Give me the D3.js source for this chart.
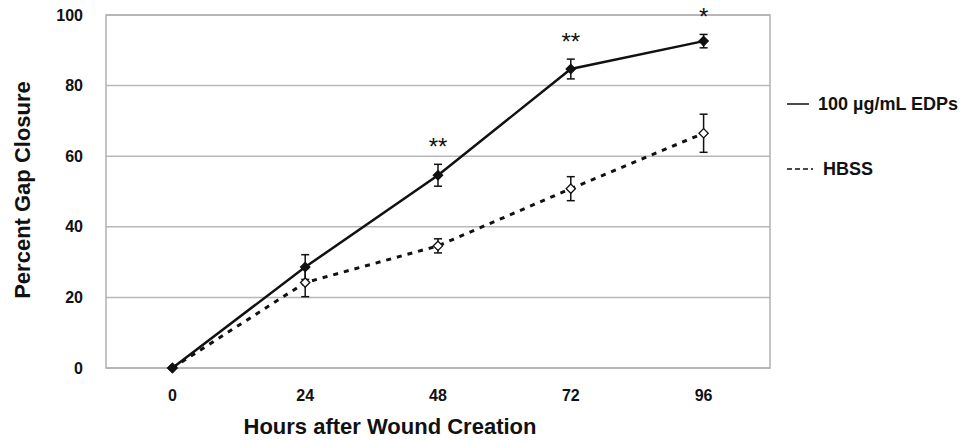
<!DOCTYPE html>
<html><head><meta charset="utf-8">
<script src="https://cdn.jsdelivr.net/npm/d3@7"></script>
<style>body{margin:0;background:#fff}svg{display:block}text{font-family:"Liberation Sans",Arial,sans-serif;font-weight:bold;fill:#111}</style>
</head><body><svg id="c" width="963" height="441"></svg>
<script>
const categories = ["0","24","48","72","96"];
const edpValues = [0, 28.6, 54.6, 84.7, 92.6];
const edpErrors = [0, 3.5, 3.1, 2.8, 1.9];
const hbssValues = [0, 24.2, 34.6, 50.8, 66.5];
const hbssErrors = [0, 4.0, 2.0, 3.4, 5.4];
const significance = ["", "", "**", "**", "*"];
const yTicks = [0, 20, 40, 60, 80, 100];
const seriesNames = ["100 µg/mL EDPs", "HBSS"];

const svg = d3.select("#c");
const L = 106, R = 770, T = 15, B = 368;
const x = d3.scaleBand().domain(categories).range([L, R]);
const cx = c => x(c) + x.bandwidth() / 2;
const y = d3.scaleLinear().domain([0, 100]).range([B, T]);

// gridlines
svg.append("g").selectAll("line").data(yTicks).join("line")
  .attr("x1", L).attr("x2", R).attr("y1", d => y(d)).attr("y2", d => y(d))
  .attr("stroke", "#b8b8b8").attr("stroke-width", 1.5);
// frame
svg.append("rect").attr("x", L).attr("y", T).attr("width", R - L).attr("height", B - T)
  .attr("fill", "none").attr("stroke", "#b0b0b0").attr("stroke-width", 1.5);

// y axis labels
const yAxis = d3.axisLeft(y).tickValues(yTicks).tickSize(0).tickPadding(23);
const gy = svg.append("g").attr("transform", `translate(${L},0)`).call(yAxis);
gy.select(".domain").remove();
gy.selectAll("text").style("font-size", "16px").style("font-family", "Liberation Sans, Arial").style("font-weight", "bold").attr("fill", "#111");

// x axis labels
const xAxis = d3.axisBottom(x).tickSize(0).tickPadding(22);
const gx = svg.append("g").attr("transform", `translate(0,${B})`).call(xAxis);
gx.select(".domain").remove();
gx.selectAll("text").style("font-size", "16px").style("font-family", "Liberation Sans, Arial").style("font-weight", "bold").attr("fill", "#111");

// titles
svg.append("text").attr("x", 390).attr("y", 434).attr("text-anchor", "middle")
  .style("font-size", "22px").text("Hours after Wound Creation");
svg.append("text").attr("transform", "translate(30,190) rotate(-90)").attr("text-anchor", "middle")
  .style("font-size", "22px").text("Percent Gap Closure");

function errorBars(vals, errs) {
  const g = svg.append("g").attr("stroke", "#111").attr("stroke-width", 1.5);
  vals.forEach((v, i) => {
    if (!errs[i]) return;
    const xc = cx(categories[i]);
    g.append("line").attr("x1", xc).attr("x2", xc).attr("y1", y(v - errs[i])).attr("y2", y(v + errs[i]));
    [v - errs[i], v + errs[i]].forEach(e => g.append("line").attr("x1", xc - 4).attr("x2", xc + 4).attr("y1", y(e)).attr("y2", y(e)));
  });
}
errorBars(hbssValues, hbssErrors);
errorBars(edpValues, edpErrors);

const line = d3.line().x((d, i) => cx(categories[i])).y(d => y(d));
svg.append("path").datum(hbssValues).attr("d", line).attr("fill", "none")
  .attr("stroke", "#111").attr("stroke-width", 3).attr("stroke-dasharray", "5,6");
svg.append("path").datum(edpValues).attr("d", line).attr("fill", "none")
  .attr("stroke", "#111").attr("stroke-width", 2.5);

const diamond = d3.symbol().type(d3.symbolDiamond2).size(55);
svg.append("g").selectAll("path").data(hbssValues).join("path")
  .attr("d", diamond).attr("transform", (d, i) => `translate(${cx(categories[i])},${y(d)})`)
  .attr("fill", "#fff").attr("stroke", "#111").attr("stroke-width", 1.3);
svg.append("g").selectAll("path").data(edpValues).join("path")
  .attr("d", diamond).attr("transform", (d, i) => `translate(${cx(categories[i])},${y(d)})`)
  .attr("fill", "#111").attr("stroke", "#111").attr("stroke-width", 1.3);

// significance stars
svg.append("g").selectAll("text").data(significance).join("text")
  .attr("x", (d, i) => cx(categories[i])).attr("y", (d, i) => y(edpValues[i] + edpErrors[i]) - 9)
  .attr("text-anchor", "middle").style("font-size", "24px").style("font-weight", "normal").text(d => d);

// legend
const lg = svg.append("g");
lg.append("line").attr("x1", 787).attr("x2", 809).attr("y1", 104).attr("y2", 104).attr("stroke", "#111").attr("stroke-width", 1.5);
lg.append("text").attr("x", 818).attr("y", 110).style("font-size", "18px").text(seriesNames[0]);
lg.append("line").attr("x1", 787).attr("x2", 813).attr("y1", 169).attr("y2", 169).attr("stroke", "#111").attr("stroke-width", 1.5).attr("stroke-dasharray", "5,3");
lg.append("text").attr("x", 823).attr("y", 175).style("font-size", "18px").text(seriesNames[1]);
</script></body></html>
